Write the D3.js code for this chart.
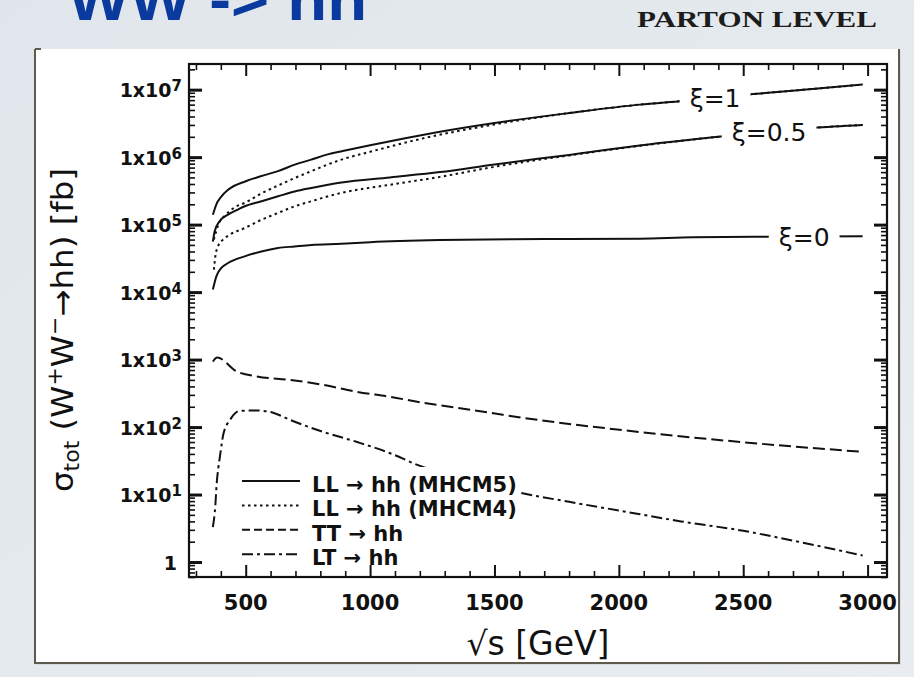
<!DOCTYPE html>
<html>
<head>
<meta charset="utf-8">
<script src="https://cdn.jsdelivr.net/npm/d3@7"></script>
<style>
  html, body { margin: 0; padding: 0; background: #e6ebef; }
  svg { display: block; }
</style>
</head>
<body>
<svg id="chart" width="914" height="677"></svg>
<script>
// ---- cross sections sigma_tot(W+W- -> hh) in fb versus sqrt(s) in GeV ----
// LL -> hh (MHCM5), xi = 1
const llXi1Energy = [368, 382, 402, 430, 500, 560, 630, 700, 760, 830, 890, 1000, 1200, 1500, 1800, 2084, 2258, 2540, 2800, 2980];
const llXi1M5 = [1.4e5, 2.0e5, 2.6e5, 3.3e5, 4.4e5, 5.2e5, 6.2e5, 7.8e5, 9.1e5, 1.1e6, 1.23e6, 1.5e6, 2.1e6, 3.2e6, 4.5e6, 6.0e6, 6.8e6, 8.6e6, 1.04e7, 1.19e7];
// LL -> hh (MHCM4), xi = 1
const llXi1M4Energy = [372, 390, 420, 455, 496, 563, 630, 697, 764, 831, 885, 1000, 1200, 1500, 1800, 2084, 2258, 2540, 2800, 2980];
const llXi1M4 = [6.0e4, 1.0e5, 1.4e5, 1.8e5, 2.1e5, 2.9e5, 3.8e5, 4.9e5, 6.2e5, 7.8e5, 9.2e5, 1.2e6, 1.85e6, 3.05e6, 4.5e6, 6.0e6, 6.8e6, 8.6e6, 1.04e7, 1.19e7];
// LL -> hh (MHCM5), xi = 0.5
const llXi05Energy = [368, 375, 395, 429, 468, 496, 563, 630, 697, 764, 831, 885, 1080, 1281, 1500, 1800, 2084, 2419, 2781, 2980];
const llXi05M5 = [5.6e4, 7.9e4, 1.12e5, 1.41e5, 1.67e5, 1.87e5, 2.22e5, 2.63e5, 3.1e5, 3.5e5, 3.9e5, 4.2e5, 5.0e5, 6.0e5, 7.8e5, 1.08e6, 1.49e6, 2.04e6, 2.72e6, 3.0e6];
// LL -> hh (MHCM4), xi = 0.5
const llXi05M4Energy = [372, 378, 389, 409, 436, 496, 563, 630, 697, 764, 831, 885, 1080, 1281, 1500, 1800, 2084, 2419, 2781, 2980];
const llXi05M4 = [2.15e4, 3.4e4, 4.8e4, 6.0e4, 7.1e4, 8.9e4, 1.18e5, 1.49e5, 1.87e5, 2.22e5, 2.63e5, 2.95e5, 3.9e5, 5.1e5, 7.2e5, 1.06e6, 1.47e6, 2.04e6, 2.72e6, 3.0e6];
// LL -> hh (MHCM5), xi = 0
const llXi0Energy = [368, 382, 402, 429, 496, 563, 630, 697, 764, 885, 1000, 1281, 1700, 2084, 2300, 2600, 2980];
const llXi0M5 = [1.09e4, 1.71e4, 2.28e4, 2.7e4, 3.39e4, 4.0e4, 4.5e4, 4.75e4, 5.0e4, 5.2e4, 5.5e4, 5.9e4, 6.1e4, 6.2e4, 6.5e4, 6.6e4, 6.7e4];
// TT -> hh
const ttEnergy = [368, 385, 464, 545, 678, 811, 948, 1080, 1213, 1350, 1482, 1615, 1993, 2492, 2978];
const ttValues = [935, 1070, 667, 562, 500, 423, 332, 281, 229, 193, 163, 137, 92, 60, 43];
// LT -> hh
const ltEnergy = [368, 378, 383, 390, 397, 403, 410, 437, 477, 545, 610, 678, 811, 948, 1080, 1190, 1583, 1800, 2000, 2250, 2500, 2750, 2980];
const ltValues = [3.3, 7, 14, 25, 38, 55, 78, 128, 174, 176, 163, 128, 85, 60, 41, 27.5, 11, 7.8, 5.8, 4.0, 2.9, 1.9, 1.25];

// axis ticks and labels
const xTickValues = [500, 1000, 1500, 2000, 2500, 3000];
const yTickValues = [1, 10, 100, 1e3, 1e4, 1e5, 1e6, 1e7];
const yTickExponents = [null, "1", "2", "3", "4", "5", "6", "7"];

// legend and curve annotations
const legendLabels = ["LL \u2192 hh (MHCM5)", "LL \u2192 hh (MHCM4)", "TT \u2192 hh", "LT \u2192 hh"];
const xiLabels = ["\u03BE=1", "\u03BE=0.5", "\u03BE=0"];
const xiLabelEnergy = [2387, 2604, 2745];

// ---------------------------------------------------------------------
const W = 914, H = 677;
const svg = d3.select("#chart");
const defs = svg.append("defs");

const bg = defs.append("linearGradient").attr("id", "pagebg")
  .attr("x1", 0).attr("y1", 0).attr("x2", 1).attr("y2", 1);
bg.append("stop").attr("offset", "0%").attr("stop-color", "#e0e6eb");
bg.append("stop").attr("offset", "100%").attr("stop-color", "#e9edf1");
svg.append("rect").attr("width", W).attr("height", H).attr("fill", "url(#pagebg)");

// slide title (runs off the top edge)
svg.append("text")
  .attr("x", 68).attr("y", 20)
  .attr("font-family", "'Liberation Sans', Arial, sans-serif")
  .attr("font-weight", "bold")
  .attr("font-size", 62)
  .attr("fill", "#0a3a9e")
  .attr("textLength", 299).attr("lengthAdjust", "spacingAndGlyphs")
  .text("WW -> hh");

svg.append("text")
  .attr("x", 637).attr("y", 27)
  .attr("font-family", "'Liberation Serif', 'Times New Roman', serif")
  .attr("font-weight", "bold")
  .attr("font-size", 24)
  .attr("fill", "#1c1c1c")
  .attr("textLength", 240).attr("lengthAdjust", "spacingAndGlyphs")
  .text("PARTON LEVEL");

// white figure panel with a thin dark frame on three sides
const panel = { x0: 35, y0: 49, x1: 899, y1: 663 };
svg.append("rect")
  .attr("x", panel.x0 + 2).attr("y", panel.y0 + 2)
  .attr("width", panel.x1 - panel.x0).attr("height", panel.y1 - panel.y0)
  .attr("fill", "#c9cfd4").attr("opacity", 0.6);
svg.append("rect")
  .attr("x", panel.x0).attr("y", panel.y0)
  .attr("width", panel.x1 - panel.x0).attr("height", panel.y1 - panel.y0)
  .attr("fill", "#ffffff");
svg.append("path")
  .attr("d", `M${panel.x0},${panel.y0}V${panel.y1}H${panel.x1}V${panel.y0}`)
  .attr("fill", "none").attr("stroke", "#5e5b4c").attr("stroke-width", 2);
svg.append("path")
  .attr("d", `M${panel.x0},${panel.y0}h6`)
  .attr("fill", "none").attr("stroke", "#5e5b4c").attr("stroke-width", 2);

// plot frame
const plot = { left: 189, right: 887, top: 64, bottom: 577 };
const x = d3.scaleLinear().domain([272, 3078]).range([plot.left, plot.right]);
const y = d3.scaleLog().domain([0.6, 2.4e7]).range([plot.bottom, plot.top]);

defs.append("clipPath").attr("id", "plotclip")
  .append("rect")
  .attr("x", plot.left).attr("y", plot.top)
  .attr("width", plot.right - plot.left).attr("height", plot.bottom - plot.top);

const ink = "#111111";
const curves = svg.append("g").attr("clip-path", "url(#plotclip)");
const line = d3.line()
  .x(d => x(d[0])).y(d => y(d[1]))
  .curve(d3.curveMonotoneX);

const series = [
  { e: llXi1Energy,   v: llXi1M5,   dash: null },
  { e: llXi05Energy,  v: llXi05M5,  dash: null },
  { e: llXi0Energy,   v: llXi0M5,   dash: null },
  { e: llXi1M4Energy, v: llXi1M4,   dash: "2.5,3.5" },
  { e: llXi05M4Energy, v: llXi05M4, dash: "2.5,3.5" },
  { e: ttEnergy,      v: ttValues,  dash: "12,5" },
  { e: ltEnergy,      v: ltValues,  dash: "11,4,3,4" }
];
series.forEach(s => {
  curves.append("path")
    .datum(s.e.map((e, i) => [e, s.v[i]]))
    .attr("d", line)
    .attr("fill", "none")
    .attr("stroke", ink)
    .attr("stroke-width", 2)
    .attr("stroke-dasharray", s.dash);
});

// curve annotations, each sitting on a white patch that breaks its line
const xiCurves = [
  { e: llXi1Energy, v: llXi1M5 },
  { e: llXi05Energy, v: llXi05M5 },
  { e: llXi0Energy, v: llXi0M5 }
];
xiLabels.forEach((lab, i) => {
  const c = xiCurves[i];
  const logInterp = d3.scaleLinear().domain(c.e).range(c.v.map(Math.log10));
  const ex = xiLabelEnergy[i];
  const cy = y(Math.pow(10, logInterp(ex)));
  const g = svg.append("g");
  const patch = g.append("rect").attr("fill", "#ffffff");
  const t = g.append("text")
    .attr("x", x(ex)).attr("y", cy + 9)
    .attr("text-anchor", "middle")
    .attr("font-family", "'DejaVu Sans', sans-serif")
    .attr("font-size", 25)
    .attr("fill", ink)
    .text(lab);
  const bb = t.node().getBBox();
  patch.attr("x", bb.x - 10).attr("y", cy - 8)
    .attr("width", bb.width + 20).attr("height", 16);
});

// legend
const legend = svg.append("g");
legend.append("rect")
  .attr("x", 234).attr("y", 467).attr("width", 284).attr("height", 103)
  .attr("fill", "#ffffff");
const legendDash = [null, "2.5,3.5", "8,4", "11,4,3,4"];
legendLabels.forEach((lab, i) => {
  const base = 492 + i * 24.4;
  legend.append("line")
    .attr("x1", 242).attr("x2", 300)
    .attr("y1", base - 11).attr("y2", base - 11)
    .attr("stroke", ink).attr("stroke-width", 2)
    .attr("stroke-dasharray", legendDash[i]);
  legend.append("text")
    .attr("x", 312).attr("y", base)
    .attr("font-family", "'DejaVu Sans', sans-serif")
    .attr("font-weight", "bold")
    .attr("font-size", 21)
    .attr("fill", ink)
    .text(lab);
});

// axes: ticks pointing inward on all four sides
const xMinor = d3.range(300, 3001, 100).filter(v => xTickValues.indexOf(v) < 0);
const yMinor = [];
for (let p = -1; p <= 7; p++) {
  for (let k = 2; k <= 9; k++) {
    const v = k * Math.pow(10, p);
    if (v > 0.6 && v < 2.4e7) yMinor.push(v);
  }
}

function drawAxis(gen, transform, values, size, width) {
  const g = svg.append("g").attr("transform", transform)
    .call(gen.tickValues(values).tickSize(size).tickFormat(""));
  g.select(".domain").remove();
  g.selectAll(".tick line").attr("stroke", ink).attr("stroke-width", width);
  g.selectAll(".tick text").remove();
}
drawAxis(d3.axisBottom(x), `translate(0,${plot.bottom})`, xMinor, -6, 1.6);
drawAxis(d3.axisBottom(x), `translate(0,${plot.bottom})`, xTickValues, -12, 2);
drawAxis(d3.axisTop(x), `translate(0,${plot.top})`, xMinor, -6, 1.6);
drawAxis(d3.axisTop(x), `translate(0,${plot.top})`, xTickValues, -12, 2);
drawAxis(d3.axisLeft(y), `translate(${plot.left},0)`, yMinor, -6, 1.6);
drawAxis(d3.axisLeft(y), `translate(${plot.left},0)`, yTickValues, -13, 3);
drawAxis(d3.axisRight(y), `translate(${plot.right},0)`, yMinor, -6, 1.6);
drawAxis(d3.axisRight(y), `translate(${plot.right},0)`, yTickValues, -13, 3);

svg.append("rect")
  .attr("x", plot.left).attr("y", plot.top)
  .attr("width", plot.right - plot.left).attr("height", plot.bottom - plot.top)
  .attr("fill", "none").attr("stroke", ink).attr("stroke-width", 2.2);

// tick labels
svg.append("g").selectAll("text")
  .data(xTickValues).join("text")
  .attr("x", d => x(d)).attr("y", 610)
  .attr("text-anchor", "middle")
  .attr("font-family", "'DejaVu Sans', sans-serif")
  .attr("font-weight", "bold")
  .attr("font-size", 21)
  .attr("fill", ink)
  .text(d => d);

const yLab = svg.append("g")
  .attr("font-family", "'DejaVu Sans', sans-serif")
  .attr("font-weight", "bold")
  .attr("fill", ink);
yTickValues.forEach((v, i) => {
  const t = yLab.append("text")
    .attr("text-anchor", "end")
    .attr("y", y(v) + 7.5)
    .attr("font-size", 19);
  if (yTickExponents[i] === null) {
    t.attr("x", 177).text("1");
  } else {
    t.attr("x", 182);
    t.append("tspan").text("1x10");
    t.append("tspan").attr("font-size", 15).attr("dy", -6).text(yTickExponents[i]);
  }
});

// axis titles
svg.append("text")
  .attr("x", 538).attr("y", 655)
  .attr("text-anchor", "middle")
  .attr("font-family", "'DejaVu Sans', sans-serif")
  .attr("font-size", 33)
  .attr("fill", ink)
  .attr("textLength", 143).attr("lengthAdjust", "spacingAndGlyphs")
  .text("\u221As [GeV]");

const yt = svg.append("text")
  .attr("transform", "translate(73,330) rotate(-90)")
  .attr("text-anchor", "middle")
  .attr("font-family", "'DejaVu Sans', sans-serif")
  .attr("font-size", 31)
  .attr("fill", ink)
  .attr("textLength", 324).attr("lengthAdjust", "spacingAndGlyphs");
yt.append("tspan").text("\u03C3");
yt.append("tspan").attr("font-size", 21).attr("dy", 6).text("tot");
yt.append("tspan").attr("dy", -6).text(" (W");
yt.append("tspan").attr("font-size", 21).attr("dy", -11).text("+");
yt.append("tspan").attr("dy", 11).text("W");
yt.append("tspan").attr("font-size", 21).attr("dy", -11).text("\u2212");
yt.append("tspan").attr("dy", 11).text("\u2192hh) [fb]");
</script>
</body>
</html>
